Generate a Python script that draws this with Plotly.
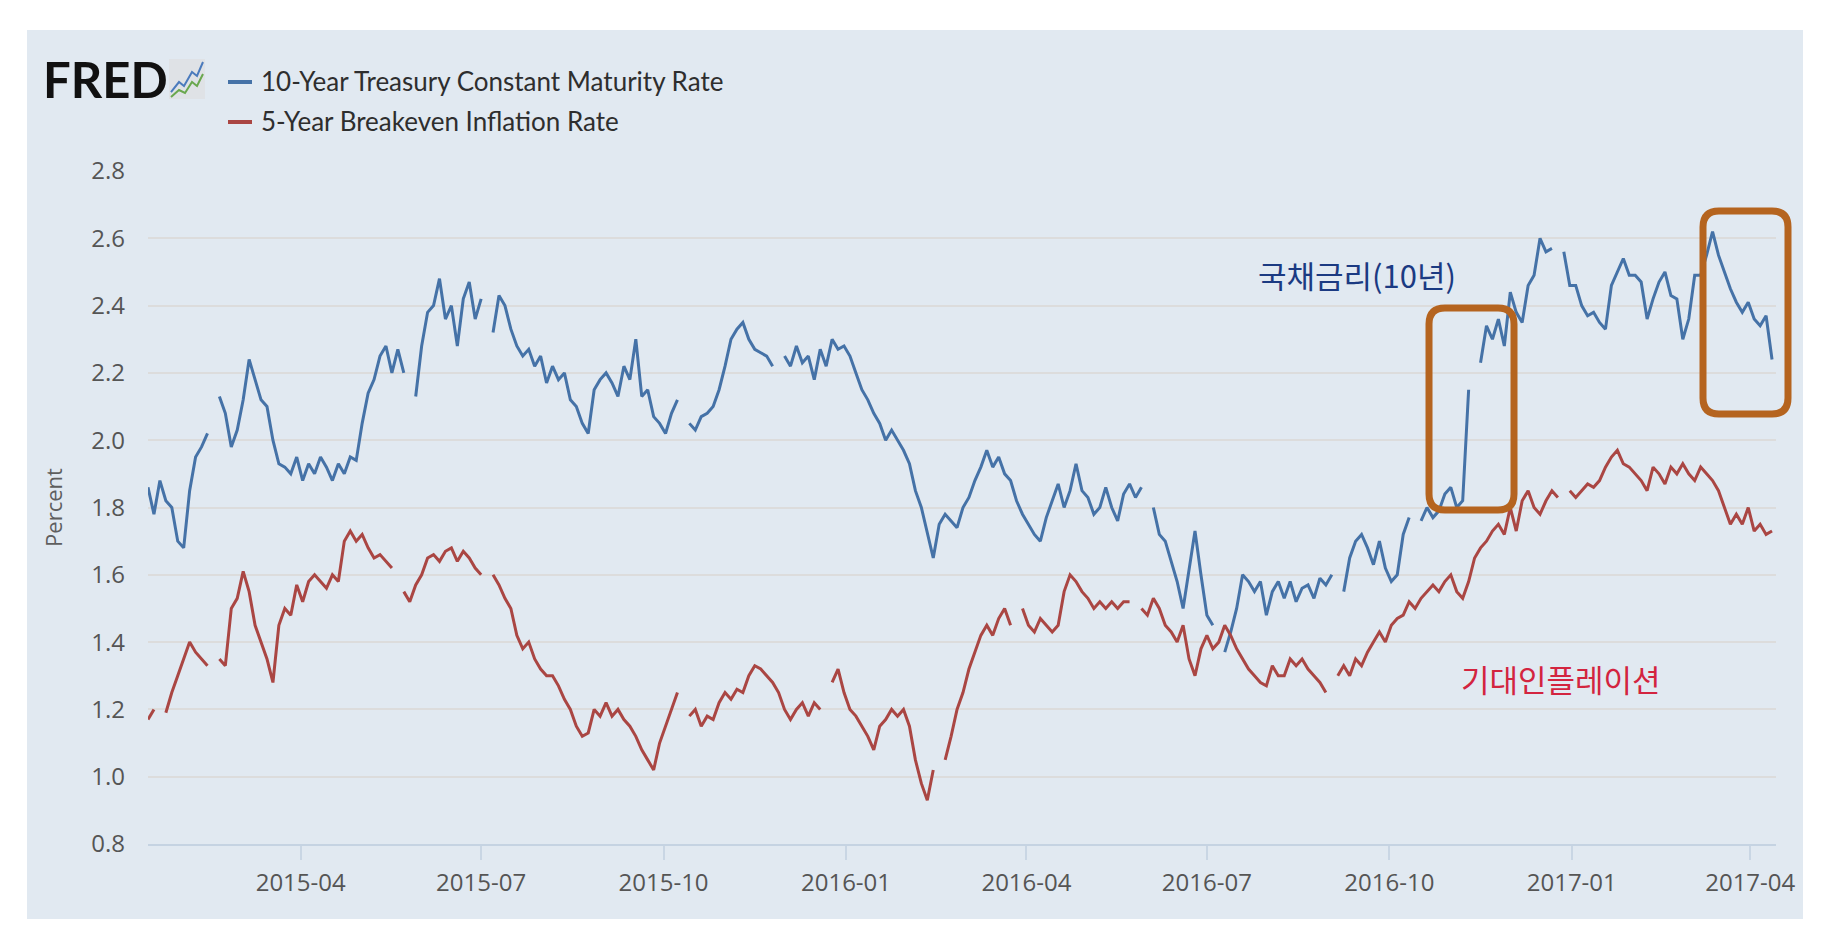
import pandas as pd
import plotly.graph_objects as go

# ---------------- data (3-day sampling) ----------------
start_date = "2015-01-14"
x_range = ["2015-01-14", "2017-04-14"]

ten_year = [
    1.86, 1.78, 1.88, 1.82, 1.80, 1.70, 1.68, 1.85, 1.95, 1.98, 2.02,
    None,
    2.13, 2.08, 1.98, 2.03, 2.12, 2.24, 2.18, 2.12, 2.10, 2.00, 1.93, 1.92,
    1.90, 1.95, 1.88, 1.93, 1.90, 1.95, 1.92, 1.88, 1.93, 1.90, 1.95, 1.94,
    2.05, 2.14, 2.18, 2.25, 2.28, 2.20, 2.27, 2.20,
    None,
    2.13, 2.28, 2.38, 2.40, 2.48, 2.36, 2.40, 2.28, 2.42, 2.47, 2.36, 2.42,
    None,
    2.32, 2.43, 2.40, 2.33, 2.28, 2.25, 2.27, 2.22, 2.25, 2.17, 2.22, 2.18,
    2.20, 2.12, 2.10, 2.05, 2.02, 2.15, 2.18, 2.20, 2.17, 2.13, 2.22, 2.18,
    2.30, 2.13, 2.15, 2.07, 2.05, 2.02, 2.08, 2.12,
    None,
    2.05, 2.03, 2.07, 2.08, 2.10, 2.15, 2.22, 2.30, 2.33, 2.35, 2.30, 2.27,
    2.26, 2.25, 2.22,
    None,
    2.25, 2.22, 2.28, 2.23, 2.25, 2.18, 2.27, 2.22, 2.30, 2.27, 2.28, 2.25,
    2.20, 2.15, 2.12, 2.08, 2.05, 2.00, 2.03, 2.00, 1.97, 1.93, 1.85, 1.80,
    1.72, 1.65, 1.75, 1.78, 1.76, 1.74, 1.80, 1.83, 1.88, 1.92, 1.97, 1.92,
    1.95, 1.90, 1.88, 1.82, 1.78, 1.75, 1.72, 1.70, 1.77, 1.82, 1.87, 1.80,
    1.85, 1.93, 1.85, 1.83, 1.78, 1.80, 1.86, 1.80, 1.76, 1.84, 1.87, 1.83,
    1.86,
    None,
    1.80, 1.72, 1.70, 1.64, 1.58, 1.50, 1.62, 1.73, 1.60, 1.48, 1.45,
    None,
    1.37, 1.43, 1.50, 1.60, 1.58, 1.55, 1.58, 1.48, 1.55, 1.58, 1.53, 1.58,
    1.52, 1.56, 1.57, 1.53, 1.59, 1.57, 1.60,
    None,
    1.55, 1.65, 1.70, 1.72, 1.68, 1.63, 1.70, 1.62, 1.58, 1.60, 1.72, 1.77,
    None,
    1.76, 1.80, 1.77, 1.79, 1.84, 1.86, 1.80, 1.82, 2.15,
    None,
    2.23, 2.34, 2.30, 2.36, 2.28, 2.44, 2.38, 2.35, 2.46, 2.49, 2.60, 2.56,
    2.57,
    None,
    2.56, 2.46, 2.46, 2.40, 2.37, 2.38, 2.35, 2.33, 2.46, 2.50, 2.54, 2.49,
    2.49, 2.47, 2.36, 2.42, 2.47, 2.50, 2.43, 2.42, 2.30, 2.36, 2.49, 2.49,
    2.55, 2.62, 2.55, 2.50, 2.45, 2.41, 2.38, 2.41, 2.36, 2.34, 2.37, 2.24,
]

breakeven = [
    1.17, 1.20, None, 1.19, 1.25, 1.30, 1.35, 1.40, 1.37, 1.35, 1.33,
    None,
    1.35, 1.33, 1.50, 1.53, 1.61, 1.55, 1.45, 1.40, 1.35, 1.28, 1.45, 1.50,
    1.48, 1.57, 1.52, 1.58, 1.60, 1.58, 1.56, 1.60, 1.58,
    1.70, 1.73, 1.70, 1.72, 1.68, 1.65, 1.66, 1.64, 1.62,
    None,
    1.55, 1.52, 1.57, 1.60, 1.65, 1.66, 1.64, 1.67, 1.68, 1.64, 1.67, 1.65,
    1.62, 1.60,
    None,
    1.60, 1.57, 1.53, 1.50, 1.42, 1.38, 1.40, 1.35, 1.32, 1.30, 1.30, 1.27,
    1.23, 1.20, 1.15, 1.12, 1.13, 1.20, 1.18, 1.22, 1.18, 1.20, 1.17, 1.15,
    1.12, 1.08, 1.05, 1.02, 1.10, 1.15, 1.20, 1.25,
    None,
    1.18, 1.20, 1.15, 1.18, 1.17, 1.22, 1.25,
    1.23, 1.26, 1.25, 1.30, 1.33, 1.32, 1.30, 1.28, 1.25, 1.20, 1.17, 1.20,
    1.22, 1.18, 1.22, 1.20,
    None,
    1.28, 1.32, 1.25, 1.20, 1.18, 1.15, 1.12, 1.08, 1.15, 1.17, 1.20, 1.18,
    1.20, 1.15, 1.05, 0.98, 0.93, 1.02,
    None,
    1.05, 1.12, 1.20, 1.25, 1.32, 1.37, 1.42, 1.45, 1.42, 1.47, 1.50, 1.45,
    None,
    1.50, 1.45, 1.43, 1.47, 1.45, 1.43, 1.45, 1.55, 1.60, 1.58, 1.55, 1.53,
    1.50, 1.52, 1.50, 1.52,
    1.50, 1.52, 1.52,
    None,
    1.50, 1.48, 1.53, 1.50, 1.45, 1.43, 1.40, 1.45, 1.35, 1.30, 1.38, 1.42,
    1.38, 1.40, 1.45, 1.42, 1.38, 1.35, 1.32, 1.30, 1.28, 1.27, 1.33, 1.30,
    1.30, 1.35, 1.33, 1.35, 1.32, 1.30, 1.28, 1.25,
    None,
    1.30, 1.33, 1.30, 1.35, 1.33, 1.37, 1.40, 1.43, 1.40, 1.45, 1.47, 1.48,
    1.52, 1.50, 1.53, 1.55, 1.57, 1.55, 1.58, 1.60, 1.55, 1.53, 1.58, 1.65,
    1.68, 1.70, 1.73, 1.75, 1.72,
    1.80, 1.73, 1.82, 1.85, 1.80, 1.78, 1.82, 1.85, 1.83,
    None,
    1.85, 1.83, 1.85, 1.87, 1.86, 1.88, 1.92, 1.95, 1.97, 1.93, 1.92, 1.90,
    1.88, 1.85, 1.92, 1.90, 1.87, 1.92, 1.90, 1.93, 1.90, 1.88, 1.92, 1.90,
    1.88, 1.85, 1.80, 1.75, 1.78, 1.75, 1.80, 1.73, 1.75, 1.72, 1.73,
]

series_names = ["10-Year Treasury Constant Maturity Rate", "5-Year Breakeven Inflation Rate"]
series_colors = ["#4572a7", "#aa4643"]
y_ticks = [0.8, 1.0, 1.2, 1.4, 1.6, 1.8, 2.0, 2.2, 2.4, 2.6, 2.8]
x_ticks = ["2015-04-01", "2015-07-01", "2015-10-01", "2016-01-01", "2016-04-01",
           "2016-07-01", "2016-10-01", "2017-01-01", "2017-04-01"]
x_ticklabels = ["2015-04", "2015-07", "2015-10", "2016-01", "2016-04",
                "2016-07", "2016-10", "2017-01", "2017-04"]
label_bond = "국채금리(10년)"
label_infl = "기대인플레이션"

dates_10y = pd.date_range(start_date, periods=len(ten_year), freq="3D")
dates_be = pd.date_range(start_date, periods=len(breakeven), freq="3D")

# ---------------- layout geometry (pixels) ----------------
W, H = 1836, 928
D = -7  # global shift of the whole panel (pixels)
PL, PR, PT, PB = 147 + D, 1775 + D, 170 + D, 843 + D


def fx(px):
    return (px + D - PL) / (PR - PL)


def fy(py):
    return (PB - (py + D)) / (PB - PT)


def rounded_path(x0, y0, x1, y1, r):
    pts = [
        ("M", [(x0 + r, y0)]), ("L", [(x1 - r, y0)]), ("Q", [(x1, y0), (x1, y0 + r)]),
        ("L", [(x1, y1 - r)]), ("Q", [(x1, y1), (x1 - r, y1)]),
        ("L", [(x0 + r, y1)]), ("Q", [(x0, y1), (x0, y1 - r)]),
        ("L", [(x0, y0 + r)]), ("Q", [(x0, y0), (x0 + r, y0)]),
    ]
    s = ""
    for cmd, ps in pts:
        s += cmd + " " + " ".join(f"{fx(a):.5f},{fy(b):.5f}" for a, b in ps) + " "
    return s + "Z"


def poly_path(points):
    return "M " + " L ".join(f"{fx(a):.5f},{fy(b):.5f}" for a, b in points)


fig = go.Figure()
fig.add_trace(go.Scatter(x=dates_10y, y=ten_year, mode="lines", name=series_names[0],
                         line=dict(color=series_colors[0], width=3), connectgaps=False))
fig.add_trace(go.Scatter(x=dates_be, y=breakeven, mode="lines", name=series_names[1],
                         line=dict(color=series_colors[1], width=3), connectgaps=False))

shapes = []
# panel background
shapes.append(dict(type="rect", xref="paper", yref="paper", layer="below",
                   x0=fx(26), x1=fx(1802), y0=fy(918), y1=fy(29),
                   fillcolor="#e1e9f1", line=dict(width=0)))
# highlight boxes
box_color = "#b5641f"
shapes.append(dict(type="path", xref="paper", yref="paper",
                   path=rounded_path(1428, 307, 1513, 509, 16),
                   line=dict(color=box_color, width=7)))
shapes.append(dict(type="path", xref="paper", yref="paper",
                   path=rounded_path(1702, 210, 1787, 413, 16),
                   line=dict(color=box_color, width=7)))
# legend dashes
shapes.append(dict(type="line", xref="paper", yref="paper",
                   x0=fx(227), x1=fx(251), y0=fy(81), y1=fy(81),
                   line=dict(color=series_colors[0], width=4)))
shapes.append(dict(type="line", xref="paper", yref="paper",
                   x0=fx(227), x1=fx(251), y0=fy(121), y1=fy(121),
                   line=dict(color=series_colors[1], width=4)))
# FRED icon
shapes.append(dict(type="rect", xref="paper", yref="paper",
                   x0=fx(168), x1=fx(204), y0=fy(98), y1=fy(58),
                   fillcolor="#dfe2e6", line=dict(width=0)))
shapes.append(dict(type="path", xref="paper", yref="paper",
                   path=poly_path([(170, 91), (178, 81), (183, 85), (191, 71), (196, 75), (202, 61)]),
                   line=dict(color="#4b7bbd", width=2)))
shapes.append(dict(type="path", xref="paper", yref="paper",
                   path=poly_path([(170, 96), (178, 89), (184, 92), (191, 81), (196, 85), (202, 73)]),
                   line=dict(color="#6aa84f", width=2)))

legend_font = "Lato"
annotations = [
    dict(xref="paper", yref="paper", x=fx(40), y=fy(78), xanchor="left", yanchor="middle",
         text="<b>FRED</b>", showarrow=False,
         font=dict(family="Lato", size=49, color="#111111", weight=900)),
    dict(xref="paper", yref="paper", x=fx(258), y=fy(80), xanchor="left", yanchor="middle",
         text=series_names[0], showarrow=False,
         font=dict(family=legend_font, size=26, color="#2e2e2e")),
    dict(xref="paper", yref="paper", x=fx(258), y=fy(120), xanchor="left", yanchor="middle",
         text=series_names[1], showarrow=False,
         font=dict(family=legend_font, size=26, color="#2e2e2e")),
    dict(xref="paper", yref="paper", x=fx(1255), y=fy(273), xanchor="left", yanchor="middle",
         text=label_bond, showarrow=False,
         font=dict(family="Noto Sans CJK KR", size=31, color="#1b3a82")),
    dict(xref="paper", yref="paper", x=fx(1458), y=fy(677), xanchor="left", yanchor="middle",
         text=label_infl, showarrow=False,
         font=dict(family="Noto Sans CJK KR", size=31, color="#d3243f")),
]

fig.update_layout(
    width=W, height=H,
    margin=dict(l=PL, r=W - PR, t=PT, b=H - PB, pad=0),
    paper_bgcolor="white",
    plot_bgcolor="white",
    showlegend=False,
    shapes=shapes,
    annotations=annotations,
    xaxis=dict(
        type="date", range=x_range,
        tickvals=x_ticks, ticktext=x_ticklabels,
        showgrid=False, zeroline=False,
        showline=True, linecolor="#c5d3e2", linewidth=2,
        ticks="outside", ticklen=14, tickwidth=1.5, tickcolor="#c9d6e4",
        ticklabelstandoff=2,
        tickfont=dict(family="Open Sans", size=24, color="#555555"),
    ),
    yaxis=dict(
        range=[0.8, 2.8], tickvals=y_ticks,
        ticktext=[f"{v:.1f}" for v in y_ticks],
        showgrid=True, gridcolor="#dcdcdc", gridwidth=2,
        zeroline=False, showline=False, ticks="",
        ticklabelstandoff=22,
        tickfont=dict(family="Open Sans", size=24, color="#555555"),
        title=dict(text="Percent", standoff=22,
                   font=dict(family="Open Sans", size=22, color="#5e5e5e")),
    ),
)

fig.write_html("out.html")
